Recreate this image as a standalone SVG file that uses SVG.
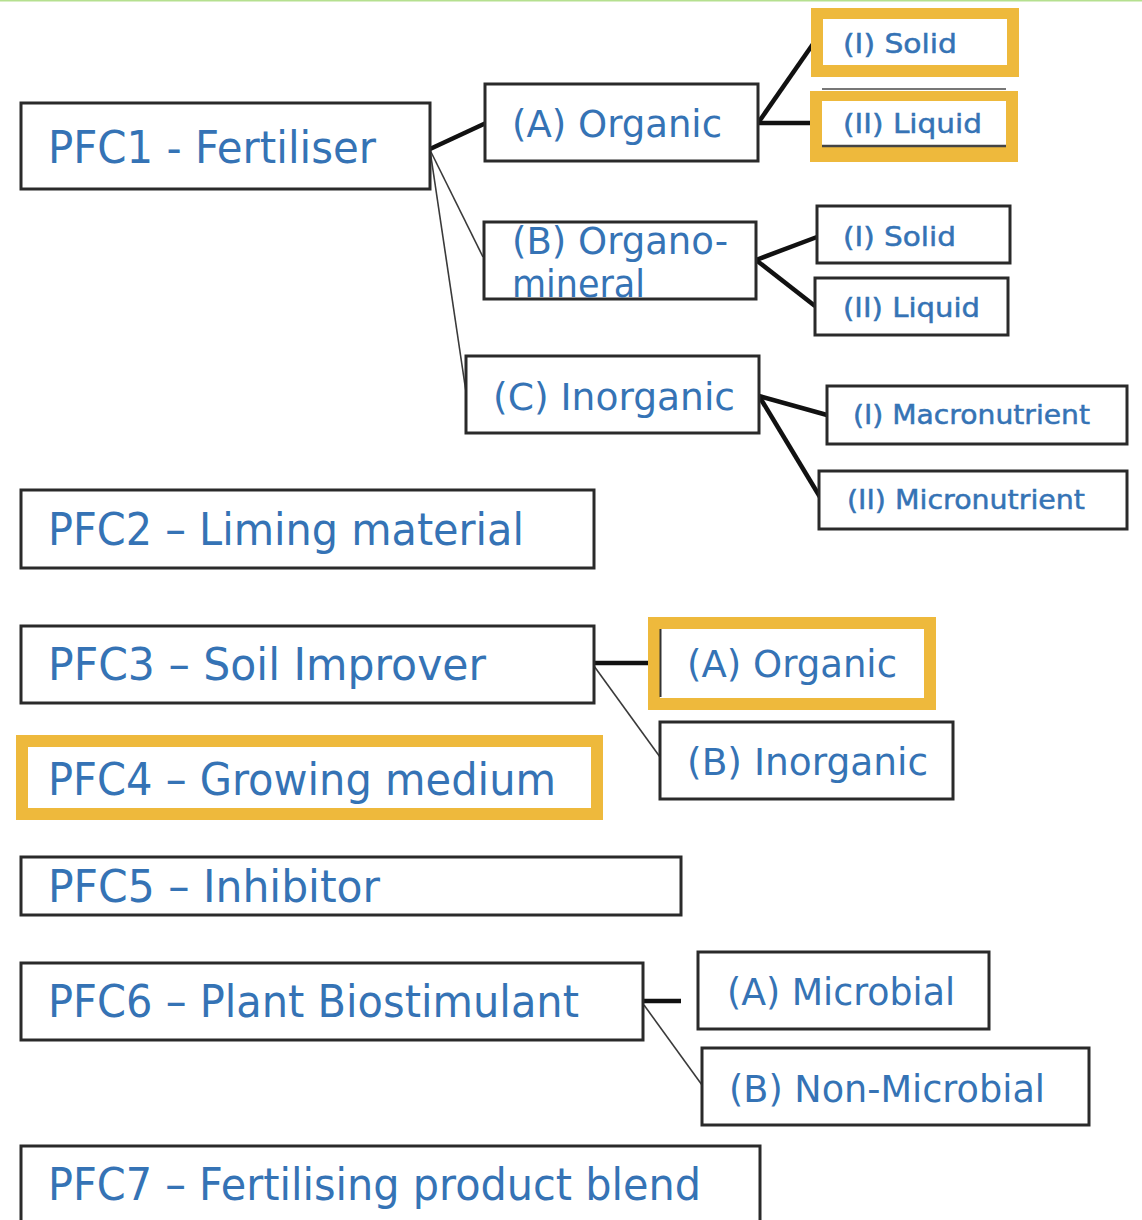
<svg xmlns="http://www.w3.org/2000/svg" width="1142" height="1220" viewBox="0 0 1142 1220">
<style>
  .box{fill:#fff;stroke:#2a2a2a;stroke-width:3}
  .hl{fill:#eeb93c}
  .inner{fill:#fff}
  .t{font-family:"DejaVu Sans","Verdana",sans-serif;fill:#3573b5}
  .big{font-size:44px}
  .mid{font-size:37px}
  .sm{font-size:27px;stroke:#3573b5;stroke-width:0.5}
  .thick{stroke:#111;stroke-width:4.5;fill:none}
  .thin{stroke:#3a3a3a;stroke-width:1.6;fill:none}
</style>
<rect x="0" y="0" width="1142" height="1220" fill="#fff"/>
<line x1="0" y1="0.8" x2="1142" y2="0.8" stroke="#b5e08f" stroke-width="1.6"/>

<g id="connectors">
  <line class="thick" x1="430" y1="149" x2="486" y2="123"/>
  <line class="thin" x1="430" y1="150" x2="483" y2="257"/>
  <line class="thin" x1="430" y1="150" x2="466" y2="392"/>
  <line class="thick" x1="758" y1="123" x2="813" y2="44"/>
  <line class="thick" x1="758" y1="123" x2="813" y2="123"/>
  <line class="thick" x1="756" y1="260" x2="817" y2="237"/>
  <line class="thick" x1="756" y1="260" x2="815" y2="306"/>
  <line class="thick" x1="759" y1="396" x2="827" y2="415"/>
  <line class="thick" x1="759" y1="396" x2="820" y2="497"/>
  <line class="thick" x1="594" y1="663" x2="660" y2="663"/>
  <line class="thin" x1="594" y1="666" x2="660" y2="757"/>
  <line class="thick" x1="643" y1="1001" x2="681" y2="1001"/>
  <line class="thin" x1="644" y1="1005" x2="702" y2="1085"/>
</g>

<g id="pfc1">
  <rect class="box" x="21" y="103" width="409" height="86"/>
  <text class="t big" x="48" y="163" textLength="328" lengthAdjust="spacingAndGlyphs">PFC1 - Fertiliser</text>
</g>
<g id="pfc1-a">
  <rect class="box" x="485" y="84" width="273" height="77"/>
  <text class="t mid" x="512" y="137" textLength="210" lengthAdjust="spacingAndGlyphs">(A) Organic</text>
</g>
<g id="pfc1-a-i">
  <rect class="hl" x="811" y="8" width="208" height="69"/>
  <rect class="inner" x="823" y="19" width="184" height="46"/>
  <text class="t sm" x="843" y="53" textLength="114" lengthAdjust="spacingAndGlyphs">(I) Solid</text>
</g>
<g id="pfc1-a-ii">
  <line x1="822" y1="89" x2="1006" y2="89" stroke="#777" stroke-width="2"/>
  <rect class="hl" x="810" y="91" width="208" height="71"/>
  <rect class="inner" x="822" y="101" width="184" height="45"/>
  <line x1="822" y1="146" x2="1006" y2="146" stroke="#444" stroke-width="2.5"/>
  <text class="t sm" x="843" y="133" textLength="139" lengthAdjust="spacingAndGlyphs">(II) Liquid</text>
</g>
<g id="pfc1-b">
  <rect class="box" x="484" y="222" width="272" height="77"/>
  <text class="t mid" x="512" y="254" textLength="216" lengthAdjust="spacingAndGlyphs">(B) Organo-</text>
  <text class="t mid" x="512" y="297" textLength="133" lengthAdjust="spacingAndGlyphs">mineral</text>
</g>
<g id="pfc1-b-i">
  <rect class="box" x="817" y="206" width="193" height="57"/>
  <text class="t sm" x="843" y="246" textLength="113" lengthAdjust="spacingAndGlyphs">(I) Solid</text>
</g>
<g id="pfc1-b-ii">
  <rect class="box" x="815" y="278" width="193" height="57"/>
  <text class="t sm" x="843" y="317" textLength="137" lengthAdjust="spacingAndGlyphs">(II) Liquid</text>
</g>
<g id="pfc1-c">
  <rect class="box" x="466" y="356" width="293" height="77"/>
  <text class="t mid" x="493" y="410" textLength="242" lengthAdjust="spacingAndGlyphs">(C) Inorganic</text>
</g>
<g id="pfc1-c-i">
  <rect class="box" x="827" y="386" width="300" height="58"/>
  <text class="t sm" x="853" y="424" textLength="237" lengthAdjust="spacingAndGlyphs">(I) Macronutrient</text>
</g>
<g id="pfc1-c-ii">
  <rect class="box" x="819" y="471" width="308" height="58"/>
  <text class="t sm" x="847" y="509" textLength="238" lengthAdjust="spacingAndGlyphs">(II) Micronutrient</text>
</g>

<g id="pfc2">
  <rect class="box" x="21" y="490" width="573" height="78"/>
  <text class="t big" x="48" y="545" textLength="476" lengthAdjust="spacingAndGlyphs">PFC2 – Liming material</text>
</g>
<g id="pfc3">
  <rect class="box" x="21" y="626" width="573" height="77"/>
  <text class="t big" x="48" y="680" textLength="438" lengthAdjust="spacingAndGlyphs">PFC3 – Soil Improver</text>
</g>
<g id="pfc3-a">
  <rect class="hl" x="648" y="617" width="288" height="93"/>
  <rect class="inner" x="660" y="629" width="264" height="69"/>
  <line x1="660.5" y1="629" x2="660.5" y2="697" stroke="#333" stroke-width="2"/>
  <text class="t mid" x="687" y="677" textLength="210" lengthAdjust="spacingAndGlyphs">(A) Organic</text>
</g>
<g id="pfc3-b">
  <rect class="box" x="660" y="722" width="293" height="77"/>
  <text class="t mid" x="687" y="775" textLength="241" lengthAdjust="spacingAndGlyphs">(B) Inorganic</text>
</g>
<g id="pfc4">
  <rect class="hl" x="16" y="735" width="587" height="85"/>
  <rect class="inner" x="28" y="747" width="563" height="61"/>
  <text class="t big" x="48" y="795" textLength="508" lengthAdjust="spacingAndGlyphs">PFC4 – Growing medium</text>
</g>
<g id="pfc5">
  <rect class="box" x="21" y="857" width="660" height="58"/>
  <text class="t big" x="48" y="902" textLength="332" lengthAdjust="spacingAndGlyphs">PFC5 – Inhibitor</text>
</g>
<g id="pfc6">
  <rect class="box" x="21" y="963" width="622" height="77"/>
  <text class="t big" x="48" y="1017" textLength="531" lengthAdjust="spacingAndGlyphs">PFC6 – Plant Biostimulant</text>
</g>
<g id="pfc6-a">
  <rect class="box" x="698" y="952" width="291" height="77"/>
  <text class="t mid" x="727" y="1005" textLength="228" lengthAdjust="spacingAndGlyphs">(A) Microbial</text>
</g>
<g id="pfc6-b">
  <rect class="box" x="702" y="1048" width="387" height="77"/>
  <text class="t mid" x="729" y="1102" textLength="316" lengthAdjust="spacingAndGlyphs">(B) Non-Microbial</text>
</g>
<g id="pfc7">
  <rect class="box" x="21" y="1146" width="739" height="90"/>
  <text class="t big" x="48" y="1200" textLength="653" lengthAdjust="spacingAndGlyphs">PFC7 – Fertilising product blend</text>
</g>
</svg>
